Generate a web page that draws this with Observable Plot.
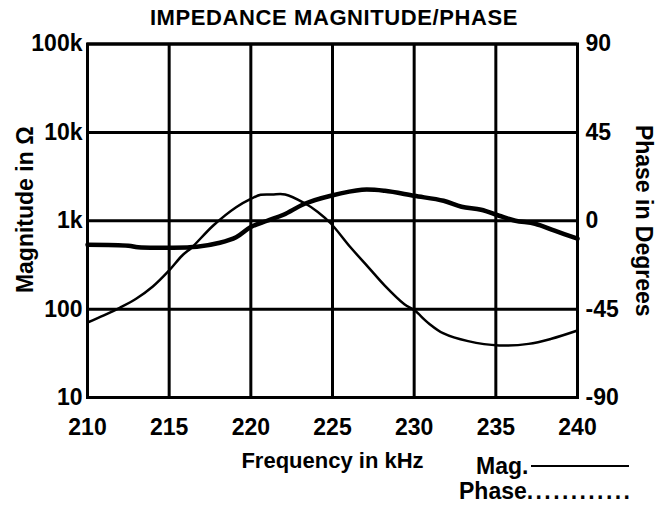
<!DOCTYPE html>
<html><head><meta charset="utf-8">
<script src="https://cdn.jsdelivr.net/npm/d3@7"></script>
<script src="https://cdn.jsdelivr.net/npm/@observablehq/plot@0.6"></script>
<style>
body{margin:0;background:#fff;font-family:"Liberation Sans",Arial,sans-serif;color:#000;}
#wrap{position:relative;width:668px;height:505px;overflow:hidden;}
#chart{position:absolute;left:0;top:0;}
#title{position:absolute;top:5px;left:0;width:668px;text-align:center;font-size:22px;letter-spacing:0.6px;font-weight:bold;}
.leg{position:absolute;font-size:23px;line-height:23px;font-weight:bold;white-space:nowrap;}
#magline{position:absolute;left:531px;top:465px;width:98px;border-top:2px solid #000;}
</style></head><body>
<div id="wrap"><div id="chart"></div>
<div id="title">IMPEDANCE MAGNITUDE/PHASE</div>
<div class="leg" style="left:476px;top:455px;">Mag.</div><div id="magline"></div>
<div class="leg" style="left:459px;top:480px;">Phase<span style="letter-spacing:2.4px">............</span></div>
</div>
<script>
// Frequency ticks (kHz)
const xTicks = [210, 215, 220, 225, 230, 235, 240];
// Magnitude axis ticks (ohms) and labels
const magTicks = [10, 100, 1000, 10000, 100000];
const magLabels = ["10", "100", "1k", "10k", "100k"];
// Phase axis ticks (degrees)
const phaseTicks = [-90, -45, 0, 45, 90];
const phaseLabels = ["-90", "-45", "0", "45", "90"];

// Magnitude curve (thick)
const magFreq = [210, 212.5, 213.1, 215, 216.7, 218.1, 219.1, 220, 221, 222, 223.3, 224.9, 226.8, 228.2, 230, 231.8, 232.9, 234.1, 235.2, 236.2, 237.4, 238.6, 240];
const magOhms = [536, 522, 500, 495, 508, 564, 650, 850, 1000, 1169, 1556, 1916, 2241, 2182, 1916, 1683, 1439, 1331, 1139, 1000, 925, 771, 626];

// Phase curve (thin)
const phaseFreq = [210, 211, 212, 213, 214, 215, 215.8, 216.4, 217.7, 219.1, 220, 220.6, 221.3, 222.1, 223.3, 224.1, 224.9, 226.1, 227.2, 228.2, 229.4, 230, 230.9, 231.8, 233.3, 235.2, 237.0, 238.4, 240];
const phaseDeg = [-51.8, -48.2, -44.2, -39.6, -33.5, -25.3, -17.7, -13.5, -2.4, 6.9, 11.1, 13.2, 13.4, 13.4, 8.9, 4.5, -1.4, -13.5, -23.7, -33.0, -42.5, -45.5, -52.3, -57.4, -61.3, -63.5, -62.7, -60.1, -55.9];

const magData = magFreq.map((f, i) => ({f, v: magOhms[i]}));
const phaseData = phaseFreq.map((f, i) => ({f, p: phaseDeg[i]}));

// map phase (-90..90) onto the log magnitude scale (10..100k)
const toY = p => Math.pow(10, 1 + (p + 90) / 180 * 4);
const phaseTickY = phaseTicks.map(toY);
const magFmt = d => magLabels[magTicks.findIndex(t => Math.abs(Math.log10(t) - Math.log10(d)) < 1e-6)];
const phaseFmt = d => phaseLabels[phaseTickY.findIndex(t => Math.abs(Math.log10(t) - Math.log10(d)) < 1e-6)];

const font = "Liberation Sans, Arial, sans-serif";
const chart = Plot.plot({
  width: 668, height: 505,
  marginTop: 43.5, marginBottom: 108, marginLeft: 87, marginRight: 91,
  style: {fontFamily: font, fontSize: "22px", fontWeight: "bold", color: "black", background: "white"},
  x: {domain: [210, 240]},
  y: {type: "log", domain: [10, 100000]},
  marks: [
    Plot.gridX(xTicks, {stroke: "black", strokeOpacity: 1, strokeWidth: 3}),
    Plot.gridY(magTicks, {stroke: "black", strokeOpacity: 1, strokeWidth: 3}),
    Plot.frame({stroke: "black", strokeWidth: 3}),
    Plot.axisX(xTicks, {tickSize: 0, tickPadding: 21, fontSize: 23, fontWeight: "bold", label: null, tickFormat: d => String(d)}),
    Plot.axisY(magTicks, {anchor: "left", tickSize: 0, tickPadding: 5, fontSize: 23, fontWeight: "bold", label: null, tickFormat: magFmt}),
    Plot.axisY(phaseTickY, {anchor: "right", tickSize: 0, tickPadding: 8, fontSize: 23, fontWeight: "bold", label: null, tickFormat: phaseFmt}),
    Plot.line(magData, {x: "f", y: "v", stroke: "black", strokeWidth: 4.5, curve: "catmull-rom"}),
    Plot.line(phaseData, {x: "f", y: d => toY(d.p), stroke: "black", strokeWidth: 2.5, curve: "catmull-rom"}),
    Plot.text(["Frequency in kHz"], {frameAnchor: "bottom", dy: 70, fontSize: 22, fontWeight: "bold", text: d => d}),
    Plot.text(["Magnitude in Ω"], {frameAnchor: "left", textAnchor: "middle", dx: -62, dy: -11, rotate: -90, fontSize: 23, fontWeight: "bold", text: d => d}),
    Plot.text(["Phase in Degrees"], {frameAnchor: "right", textAnchor: "middle", dx: 66, rotate: 90, fontSize: 23, fontWeight: "bold", text: d => d})
  ]
});
document.getElementById("chart").appendChild(chart);
</script>
</body></html>
